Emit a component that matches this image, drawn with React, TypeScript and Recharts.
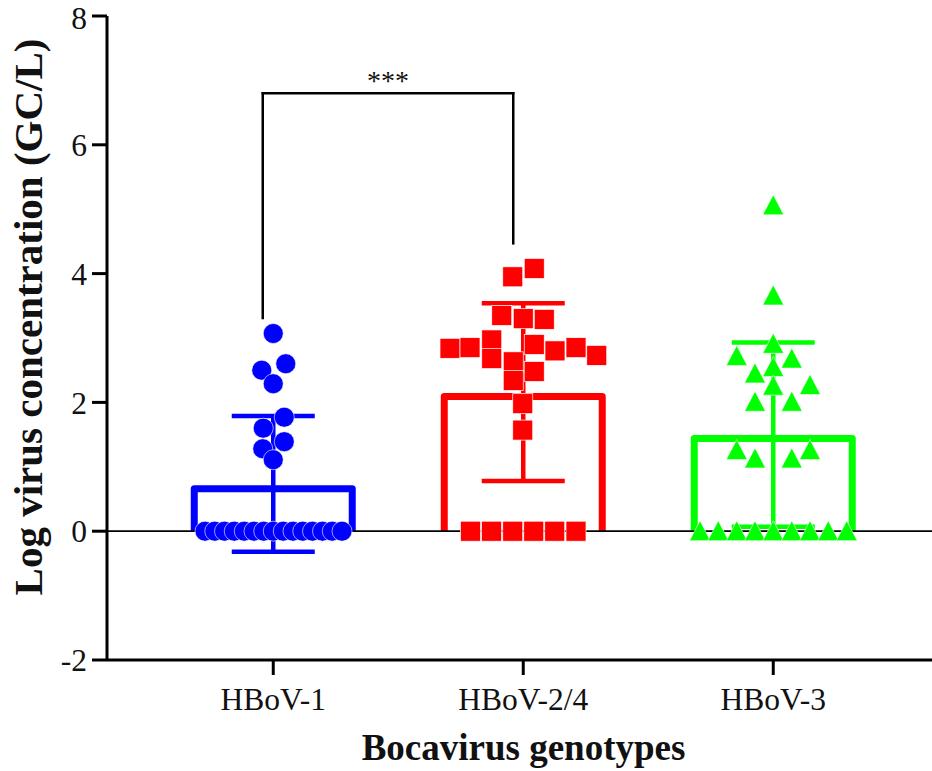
import React from 'react';
import {
  ComposedChart,
  Bar,
  ErrorBar,
  Scatter,
  XAxis,
  YAxis,
  ReferenceLine,
  Label,
} from 'recharts';

// ---------- data ----------
const categories = ['HBoV-1', 'HBoV-2/4', 'HBoV-3'];
const categoryPositions = [1, 2, 3];
const barMeans = [0.66, 2.09, 1.44];
const sdLower = [-0.32, 0.78, 0.07];
const sdUpper = [1.79, 3.54, 2.93];
const yTicks = [-2, 0, 2, 4, 6, 8];
const seriesColors = ['#0000ff', '#ff0000', '#00ff00'];

const hbov1Points = [
  { x: 1.0, y: 3.07 },
  { x: 1.05, y: 2.6 },
  { x: 0.954, y: 2.5 },
  { x: 1.0, y: 2.29 },
  { x: 1.044, y: 1.77 },
  { x: 0.96, y: 1.6 },
  { x: 1.044, y: 1.39 },
  { x: 0.958, y: 1.28 },
  { x: 1.0, y: 1.11 },
  { x: 0.727, y: 0 },
  { x: 0.766, y: 0 },
  { x: 0.805, y: 0 },
  { x: 0.844, y: 0 },
  { x: 0.884, y: 0 },
  { x: 0.923, y: 0 },
  { x: 0.962, y: 0 },
  { x: 1.0, y: 0 },
  { x: 1.04, y: 0 },
  { x: 1.079, y: 0 },
  { x: 1.118, y: 0 },
  { x: 1.157, y: 0 },
  { x: 1.197, y: 0 },
  { x: 1.236, y: 0 },
  { x: 1.275, y: 0 },
];

const hbov24Points = [
  { x: 1.958, y: 3.95 },
  { x: 2.044, y: 4.08 },
  { x: 1.914, y: 3.35 },
  { x: 2.0, y: 3.3 },
  { x: 2.084, y: 3.29 },
  { x: 1.707, y: 2.84 },
  { x: 1.787, y: 2.85 },
  { x: 1.874, y: 2.97 },
  { x: 1.874, y: 2.68 },
  { x: 2.044, y: 2.9 },
  { x: 2.127, y: 2.8 },
  { x: 2.211, y: 2.85 },
  { x: 2.294, y: 2.73 },
  { x: 1.96, y: 2.63 },
  { x: 2.044, y: 2.48 },
  { x: 1.96, y: 2.34 },
  { x: 1.998, y: 1.98 },
  { x: 1.998, y: 1.57 },
  { x: 1.789, y: 0 },
  { x: 1.873, y: 0 },
  { x: 1.958, y: 0 },
  { x: 2.042, y: 0 },
  { x: 2.126, y: 0 },
  { x: 2.211, y: 0 },
];

const hbov3Points = [
  { x: 3.0, y: 5.06 },
  { x: 3.0, y: 3.66 },
  { x: 3.0, y: 2.91 },
  { x: 2.854, y: 2.72 },
  { x: 3.074, y: 2.68 },
  { x: 2.927, y: 2.45 },
  { x: 3.0, y: 2.55 },
  { x: 3.147, y: 2.27 },
  { x: 3.0, y: 2.26 },
  { x: 2.927, y: 2.01 },
  { x: 3.074, y: 2.01 },
  { x: 2.854, y: 1.26 },
  { x: 3.147, y: 1.26 },
  { x: 2.927, y: 1.13 },
  { x: 3.074, y: 1.13 },
  { x: 2.707, y: 0 },
  { x: 2.78, y: 0 },
  { x: 2.854, y: 0 },
  { x: 2.927, y: 0 },
  { x: 3.0, y: 0 },
  { x: 3.074, y: 0 },
  { x: 3.147, y: 0 },
  { x: 3.22, y: 0 },
  { x: 3.294, y: 0 },
];

// significance bracket (HBoV-1 vs HBoV-2/4)
const bracketLeftX = 0.958;
const bracketRightX = 1.96;
const bracketTopY = 6.8;
const bracketLeftBottomY = 3.31;
const bracketRightBottomY = 4.47;
const bracketText = '***';

const xDomain: [number, number] = [0.335, 3.635];

// ---------- derived tables ----------
const barData = categories.map((name, i) => ({
  name,
  x: categoryPositions[i],
  y: barMeans[i],
}));

const errorData = categories.map((name, i) => [
  {
    name,
    x: categoryPositions[i],
    y: barMeans[i],
    err: [barMeans[i] - sdLower[i], sdUpper[i] - barMeans[i]],
  },
]);

const FONT = "'Liberation Serif', 'Times New Roman', serif";

const OpenBar = (props: any) => {
  const { x, y, width, height, index } = props;
  if (!height || !isFinite(height)) return <g />;
  const c = seriesColors[index] || '#000';
  return (
    <path
      d={`M${x},${y + height} L${x},${y} L${x + width},${y} L${x + width},${y + height}`}
      fill="none"
      stroke={c}
      strokeWidth={7}
      strokeLinejoin="round"
    />
  );
};

const CircleShape = (p: any) => (
  <circle cx={p.cx} cy={p.cy} r={10} fill={seriesColors[0]} stroke="#ffffff" strokeWidth={0.6} />
);
const SquareShape = (p: any) => (
  <rect x={p.cx - 10} y={p.cy - 10} width={20} height={20} fill={seriesColors[1]} stroke="#ffffff" strokeWidth={0.7} />
);
const TriangleShape = (p: any) => (
  <polygon
    points={`${p.cx},${p.cy - 10.5} ${p.cx - 10.5},${p.cy + 9.5} ${p.cx + 10.5},${p.cy + 9.5}`}
    fill={seriesColors[2]}
    stroke="#ffffff"
    strokeWidth={0.6}
  />
);
const EmptyShape = () => <g />;

export default function App() {
  return (
    <div style={{ position: 'absolute', left: 0, top: 0, background: '#fff' }}>
      <ComposedChart
        width={932}
        height={771}
        data={barData}
        margin={{ top: 16, right: 0, bottom: 0, left: 0 }}
      >
        <XAxis
          dataKey="x"
          type="number"
          domain={xDomain}
          ticks={categoryPositions}
          tickFormatter={(v: number) => categories[Math.round(v) - 1] || ''}
          allowDataOverflow
          height={111}
          axisLine={{ stroke: '#000', strokeWidth: 3 }}
          tickLine={{ stroke: '#000', strokeWidth: 3 }}
          tickSize={15}
          tickMargin={12.5}
          tick={{ fill: '#111', fontSize: 31.5, fontFamily: FONT }}
        >
          <Label
            value="Bocavirus genotypes"
            position="insideBottom"
            offset={11}
            dx={4}
            style={{ fontSize: 37, fontWeight: 'bold', fontFamily: FONT, fill: '#111' }}
          />
        </XAxis>
        <XAxis
          xAxisId="bars"
          dataKey="x"
          type="number"
          domain={xDomain}
          allowDataOverflow
          hide
        />
        <YAxis
          dataKey="y"
          type="number"
          domain={[-2, 8]}
          ticks={yTicks}
          allowDataOverflow
          width={107}
          axisLine={{ stroke: '#000', strokeWidth: 3 }}
          tickLine={{ stroke: '#000', strokeWidth: 3 }}
          tickSize={15}
          tickMargin={5}
          tick={{ fill: '#111', fontSize: 31.5, fontFamily: FONT }}
        >
          <Label
            value="Log virus concentration (GC/L)"
            position="center"
            angle={-90}
            dx={-26}
            dy={-21}
            style={{ fontSize: 41, fontWeight: 'bold', fontFamily: FONT, fill: '#111' }}
          />
        </YAxis>

        <Bar
          xAxisId="bars"
          dataKey="y"
          barSize={158}
          shape={OpenBar}
          isAnimationActive={false}
        />

        {errorData.map((d, i) => (
          <Scatter
            key={`err-${i}`}
            data={d}
            shape={EmptyShape}
            isAnimationActive={false}
          >
            <ErrorBar
              dataKey="err"
              direction="y"
              width={41.5}
              stroke={seriesColors[i]}
              strokeWidth={4.5}
              isAnimationActive={false}
            />
          </Scatter>
        ))}

        <Scatter data={hbov1Points} shape={CircleShape} isAnimationActive={false} />
        <Scatter data={hbov24Points} shape={SquareShape} isAnimationActive={false} />
        <Scatter data={hbov3Points} shape={TriangleShape} isAnimationActive={false} />

        <ReferenceLine y={0} stroke="#000" strokeWidth={1.8} />

        <ReferenceLine
          segment={[
            { x: bracketLeftX, y: bracketLeftBottomY },
            { x: bracketLeftX, y: bracketTopY },
          ]}
          stroke="#000"
          strokeWidth={2.5}
          strokeLinecap="square"
        />
        <ReferenceLine
          segment={[
            { x: bracketLeftX, y: bracketTopY },
            { x: bracketRightX, y: bracketTopY },
          ]}
          stroke="#000"
          strokeWidth={2.5}
          strokeLinecap="square"
          label={{
            value: bracketText,
            position: 'top',
            offset: 3,
            fontSize: 28,
            fill: '#111',
            fontFamily: FONT,
          }}
        />
        <ReferenceLine
          segment={[
            { x: bracketRightX, y: bracketTopY },
            { x: bracketRightX, y: bracketRightBottomY },
          ]}
          stroke="#000"
          strokeWidth={2.5}
          strokeLinecap="square"
        />
      </ComposedChart>
    </div>
  );
}
